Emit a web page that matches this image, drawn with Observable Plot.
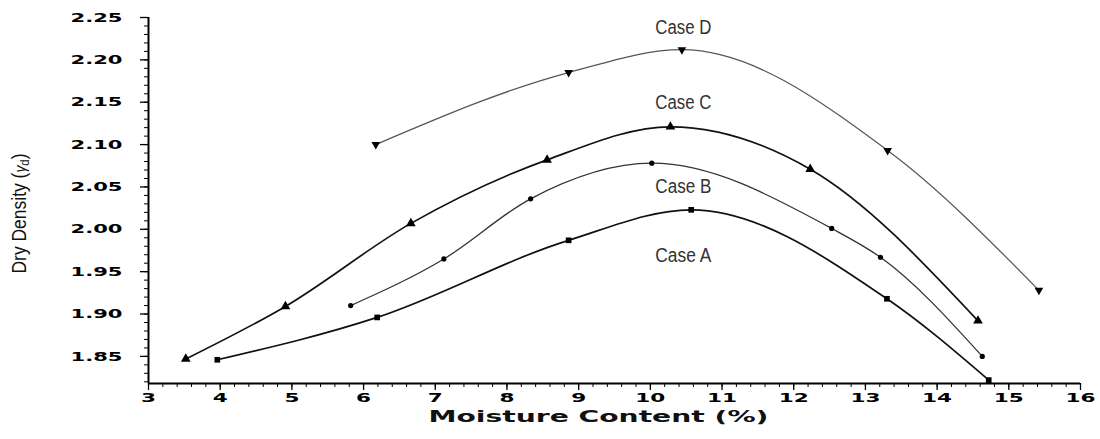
<!DOCTYPE html>
<html>
<head>
<meta charset="utf-8">
<script src="https://cdn.jsdelivr.net/npm/d3@7"></script>
<script src="https://cdn.jsdelivr.net/npm/@observablehq/plot@0.6"></script>
<style>
  html, body { margin: 0; padding: 0; background: #fff; }
  #chart { width: 1100px; height: 439px; }
</style>
</head>
<body>
<div id="chart"></div>
<script>
// ---- data ----
const moistureA = [3.96, 6.19, 8.86, 10.57, 13.30, 14.72];
const densityA  = [1.846, 1.896, 1.987, 2.023, 1.918, 1.822];

const moistureB = [5.82, 7.12, 8.33, 10.02, 12.53, 13.21, 14.63];
const densityB  = [1.910, 1.965, 2.036, 2.078, 2.001, 1.967, 1.850];

const moistureC = [3.52, 4.91, 6.66, 8.56, 10.28, 12.23, 14.57];
const densityC  = [1.847, 1.909, 2.007, 2.082, 2.121, 2.071, 1.892];

const moistureD = [6.17, 8.86, 10.44, 13.31, 15.42];
const densityD  = [2.100, 2.185, 2.212, 2.093, 1.928];

const caseNames     = ["Case A", "Case B", "Case C", "Case D"];
const labelMoisture = [10.46, 10.46, 10.46, 10.46];
const labelDensity  = [1.969, 2.051, 2.150, 2.238];

const xTickValues = [3, 4, 5, 6, 7, 8, 9, 10, 11, 12, 13, 14, 15, 16];
const yTickValues = [1.85, 1.90, 1.95, 2.00, 2.05, 2.10, 2.15, 2.20, 2.25];
const xTitle = "Moisture Content (%)";
const yTitle = "Dry Density (γd)";

// ---- build tables ----
const toRows = (xs, ys) => xs.map((x, i) => ({x, y: ys[i]}));
const A = toRows(moistureA, densityA);
const B = toRows(moistureB, densityB);
const C = toRows(moistureC, densityC);
const D = toRows(moistureD, densityD);
const labels = caseNames.map((t, i) => ({t, x: labelMoisture[i], y: labelDensity[i]}));

const yMin = 1.818, yMax = 2.25;
const xMinor = d3.range(3, 16.001, 0.2).map(v => +v.toFixed(1));
const yMinor = d3.range(1.82, 2.2501, 0.01).map(v => +v.toFixed(2));

const tickFont = "DejaVu Sans";
const narrow = "'Liberation Sans Narrow', 'Liberation Sans', Arial, sans-serif";

const chart = Plot.plot({
  width: 1100,
  height: 439,
  marginLeft: 148,
  marginRight: 20,
  marginTop: 17,
  marginBottom: 56,
  x: {domain: [3, 16]},
  y: {domain: [yMin, yMax]},
  style: {background: "#fff", color: "#000"},
  marks: [
    // minor ticks
    Plot.axisX({ticks: xMinor, tickSize: 4, tickFormat: () => "", label: null, strokeWidth: 1}),
    Plot.axisY({ticks: yMinor, tickSize: 4, tickFormat: () => "", label: null, strokeWidth: 1}),
    // major ticks + labels
    Plot.axisX({ticks: xTickValues, tickSize: 7, tickPadding: 2, tickFormat: d => String(d), label: null,
      fontFamily: tickFont, fontWeight: "bold", fontSize: 13, strokeWidth: 1.3}),
    Plot.axisY({ticks: yTickValues, tickSize: 8, tickPadding: 18, tickFormat: d => d.toFixed(2), label: null,
      fontFamily: tickFont, fontWeight: "bold", fontSize: 13, strokeWidth: 1.3}),
    // axis lines
    Plot.ruleX([3], {stroke: "#000", strokeWidth: 2}),
    Plot.ruleY([yMin], {stroke: "#000", strokeWidth: 2}),
    // curves
    Plot.line(D, {x: "x", y: "y", curve: "monotone-x", stroke: "#555", strokeWidth: 1.2}),
    Plot.line(C, {x: "x", y: "y", curve: "monotone-x", stroke: "#111", strokeWidth: 1.7}),
    Plot.line(B, {x: "x", y: "y", curve: "monotone-x", stroke: "#333", strokeWidth: 1.3}),
    Plot.line(A, {x: "x", y: "y", curve: "monotone-x", stroke: "#111", strokeWidth: 1.7}),
    // markers
    Plot.dot(A, {x: "x", y: "y", symbol: "square", r: 3.2, fill: "#000"}),
    Plot.dot(B, {x: "x", y: "y", symbol: "circle", r: 2.6, fill: "#000"}),
    Plot.dot(C, {x: "x", y: "y", symbol: "triangle", r: 3.6, fill: "#000"}),
    Plot.dot(D, {x: "x", y: "y", symbol: "triangle", r: 3.2, fill: "#000", rotate: 180}),
    // case labels
    Plot.text(labels, {x: "x", y: "y", text: "t", fontFamily: narrow, fontSize: 20, fill: "#333"}),
    // axis titles
    Plot.text([xTitle], {frameAnchor: "bottom", dx: -16, dy: 38, fontFamily: tickFont, fontWeight: "bold", fontSize: 15, fill: "#111"}),
    Plot.text([yTitle], {frameAnchor: "left", rotate: -90, fontFamily: narrow, fontSize: 20, fill: "#111"})
  ]
});

document.getElementById("chart").appendChild(chart);

// stretch / condense texts to match the faces of the reference
const svg = d3.select(chart);
svg.selectAll("g[aria-label$='tick label'] text").each(function() {
  const s = this.textContent;
  if (!s) return;
  let w = 0;
  for (const ch of s) w += (ch === ".") ? 7 : 15;
  this.setAttribute("textLength", w);
  this.setAttribute("lengthAdjust", "spacingAndGlyphs");
});
svg.selectAll("text").each(function() {
  const s = this.textContent;
  if (s === xTitle) {
    this.setAttribute("textLength", 340);
    this.setAttribute("lengthAdjust", "spacingAndGlyphs");
  } else if (caseNames.includes(s)) {
    this.setAttribute("textLength", 56);
    this.setAttribute("lengthAdjust", "spacingAndGlyphs");
  } else if (s === yTitle) {
    const el = d3.select(this);
    el.text(null);
    el.attr("x", null).attr("y", null).attr("dx", null).attr("dy", "0.32em")
      .attr("text-anchor", "start")
      .attr("transform", "translate(19,273) rotate(-90)")
      .attr("textLength", 120).attr("lengthAdjust", "spacingAndGlyphs");
    el.append("tspan").text("Dry Density (");
    el.append("tspan").attr("font-style", "italic").attr("font-size", 16).text("γ");
    el.append("tspan").attr("font-size", 13).attr("dy", 3).text("d");
    el.append("tspan").attr("dy", -3).text(")");
  }
});
</script>
</body>
</html>
